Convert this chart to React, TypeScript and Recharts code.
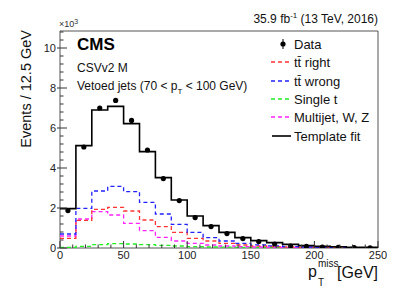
import { ComposedChart, Line, Scatter, XAxis, YAxis, ReferenceArea } from 'recharts';

// pT miss bins (GeV), 12.5 GeV wide
const binEdges = [
  0, 12.5, 25, 37.5, 50, 62.5, 75, 87.5, 100, 112.5, 125, 137.5, 150, 162.5, 175, 187.5, 200, 212.5,
  225, 237.5, 250,
];
const binCenters = [
  6.25, 18.75, 31.25, 43.75, 56.25, 68.75, 81.25, 93.75, 106.25, 118.75, 131.25, 143.75, 156.25,
  168.75, 181.25, 193.75, 206.25, 218.75, 231.25, 243.75,
];

// events x 10^3
const dataEvents = [
  1.87, 5.05, 7.0, 7.38, 6.38, 4.9, 3.47, 2.37, 1.52, 1.07, 0.72, 0.47, 0.32, 0.2, 0.1, 0.08, 0.05,
  0.03, 0.02, 0.01,
];
const templateFit = [
  1.97, 5.12, 6.9, 7.08, 6.22, 4.82, 3.52, 2.4, 1.6, 1.12, 0.78, 0.52, 0.37, 0.27, 0.18, 0.12, 0.08,
  0.06, 0.04, 0.03,
];
const ttRight = [
  0.48, 1.38, 1.93, 2.03, 1.85, 1.4, 1.07, 0.78, 0.48, 0.35, 0.23, 0.15, 0.1, 0.07, 0.05, 0.03, 0.02,
  0.01, 0.01, 0.01,
];
const ttWrong = [
  0.7, 1.98, 2.85, 3.08, 2.82, 2.28, 1.7, 1.18, 0.78, 0.52, 0.35, 0.23, 0.16, 0.11, 0.07, 0.05, 0.03,
  0.02, 0.015, 0.01,
];
const singleT = [
  0.03, 0.08, 0.17, 0.22, 0.2, 0.17, 0.13, 0.1, 0.07, 0.05, 0.04, 0.03, 0.02, 0.015, 0.01, 0.01,
  0.005, 0.005, 0.005, 0.005,
];
const multijet = [
  0.6, 1.45, 1.82, 1.65, 1.23, 0.87, 0.53, 0.35, 0.23, 0.15, 0.1, 0.07, 0.05, 0.03, 0.02, 0.01, 0.01,
  0.01, 0.005, 0.005,
];

const xTicks = [
  0, 10, 20, 30, 40, 50, 60, 70, 80, 90, 100, 110, 120, 130, 140, 150, 160, 170, 180, 190, 200, 210,
  220, 230, 240, 250,
];
const xMajor = [0, 50, 100, 150, 200, 250];
const yTicks = [
  0, 0.4, 0.8, 1.2, 1.6, 2, 2.4, 2.8, 3.2, 3.6, 4, 4.4, 4.8, 5.2, 5.6, 6, 6.4, 6.8, 7.2, 7.6, 8, 8.4,
  8.8, 9.2, 9.6, 10, 10.4, 10.8,
];
const yMajor = [0, 2, 4, 6, 8, 10];

// step histogram rows: last edge repeats the last bin so the step closes at 250
const histRows = binEdges.map((x, i) => {
  const b = Math.min(i, binCenters.length - 1);
  return {
    x,
    fit: templateFit[b],
    right: ttRight[b],
    wrong: ttWrong[b],
    single: singleT[b],
    multi: multijet[b],
  };
});
const dataPoints = binCenters.map((x, i) => ({ x, y: dataEvents[i] }));

const FONT = '"Liberation Sans", Arial, sans-serif';

function YTick({ x, y, payload }: any) {
  const major = yMajor.includes(payload.value);
  return (
    <g>
      <line x1={major ? x - 3 : x} x2={x + (major ? 7 : 3.5)} y1={y} y2={y} stroke="#333" />
      {major && (
        <text x={x - 4} y={y} dy={4} textAnchor="end" fontSize={11} fontFamily={FONT} fill="#222">
          {payload.value}
        </text>
      )}
    </g>
  );
}

function XTick({ x, y, payload }: any) {
  const major = xMajor.includes(payload.value);
  return (
    <g>
      <line x1={x} x2={x} y1={y} y2={y - (major ? 7 : 3.5)} stroke="#333" />
      {major && (
        <text x={x} y={y} dy={11} textAnchor="middle" fontSize={11} fontFamily={FONT} fill="#222">
          {payload.value}
        </text>
      )}
    </g>
  );
}

const legendRows = [
  { label: 'Data', color: '#000', kind: 'data', y: 44 },
  { label: 'tt\u0304 right', color: '#ff3333', kind: 'dash', y: 62 },
  { label: 'tt\u0304 wrong', color: '#2222ff', kind: 'dash', y: 81 },
  { label: 'Single t', color: '#22ee22', kind: 'dash', y: 99 },
  { label: 'Multijet, W, Z', color: '#ff22ff', kind: 'dash', y: 117 },
  { label: 'Template fit', color: '#000', kind: 'solid', y: 136 },
];

export default function App() {
  return (
    <div style={{ position: 'absolute', left: 0, top: 0, width: 407, height: 293, background: '#fff' }}>
      <ComposedChart
        width={407}
        height={293}
        data={histRows}
        margin={{ top: 31, right: 29, bottom: 0, left: 0 }}
      >
        <XAxis
          dataKey="x"
          type="number"
          domain={[0, 250]}
          ticks={xTicks}
          interval={0}
          tick={<XTick />}
          tickSize={0}
          tickMargin={0}
          axisLine={false}
          height={45}
          allowDataOverflow
        />
        <YAxis
          type="number"
          domain={[0, 10.85]}
          ticks={yTicks}
          interval={0}
          tick={<YTick />}
          tickSize={0}
          tickMargin={0}
          axisLine={false}
          width={60}
          allowDataOverflow
        />
        <ReferenceArea x1={0} x2={250} y1={0} y2={10.85} fill="none" stroke="#555" strokeWidth={1} />
        <Line type="stepAfter" dataKey="single" stroke="#22ee22" strokeWidth={1.3} strokeDasharray="4 3" dot={false} activeDot={false} isAnimationActive={false} />
        <Line type="stepAfter" dataKey="multi" stroke="#ff22ff" strokeWidth={1.3} strokeDasharray="4 3" dot={false} activeDot={false} isAnimationActive={false} />
        <Line type="stepAfter" dataKey="right" stroke="#ff3333" strokeWidth={1.3} strokeDasharray="4 3" dot={false} activeDot={false} isAnimationActive={false} />
        <Line type="stepAfter" dataKey="wrong" stroke="#2222ff" strokeWidth={1.3} strokeDasharray="4 3" dot={false} activeDot={false} isAnimationActive={false} />
        <Line type="stepAfter" dataKey="fit" stroke="#000" strokeWidth={1.6} dot={false} activeDot={false} isAnimationActive={false} />
        <Scatter
          data={dataPoints}
          dataKey="y"
          fill="#000"
          isAnimationActive={false}
          shape={(p: any) => <circle cx={p.cx} cy={p.cy} r={2.6} fill="#000" />}
        />
      </ComposedChart>

      <svg
        width={407}
        height={293}
        style={{ position: 'absolute', left: 0, top: 0, pointerEvents: 'none' }}
        fontFamily={FONT}
      >
        <text x={378} y={23} textAnchor="end" fontSize={12} fill="#111">
          35.9 fb<tspan dy={-5} fontSize={8}>-1</tspan>
          <tspan dy={5}> (13 TeV, 2016)</tspan>
        </text>
        <text x={59} y={27} fontSize={9} fill="#333">
          ×10<tspan dy={-3} fontSize={7}>3</tspan>
        </text>
        <text x={77} y={50} fontSize={17} fontWeight="bold" fill="#000">
          CMS
        </text>
        <text x={77} y={72} fontSize={12} fill="#111">
          CSVv2 M
        </text>
        <text x={77} y={90} fontSize={12} fill="#111">
          Vetoed jets (70 &lt; p<tspan dy={4} fontSize={8}>T</tspan>
          <tspan dy={-4}> &lt; 100 GeV)</tspan>
        </text>
        <text
          x={31}
          y={30}
          transform="rotate(-90 31 30)"
          textAnchor="end"
          fontSize={14.5}
          fill="#111"
        >
          Events / 12.5 GeV
        </text>
        <text x={308} y={277} fontSize={16} fill="#111">
          p
        </text>
        <text x={318} y={267} fontSize={10} fill="#111">
          miss
        </text>
        <text x={318} y={286} fontSize={10} fill="#111">
          T
        </text>
        <text x={378} y={278} textAnchor="end" fontSize={16} fill="#111">
          [GeV]
        </text>
        {legendRows.map((r) => (
          <g key={r.label}>
            {r.kind === 'data' && (
              <>
                <line x1={283} x2={283} y1={r.y - 5} y2={r.y + 5} stroke="#000" />
                <circle cx={283} cy={r.y} r={2.6} fill="#000" />
              </>
            )}
            {r.kind === 'dash' && (
              <line x1={271} x2={292} y1={r.y} y2={r.y} stroke={r.color} strokeWidth={1.3} strokeDasharray="4 3" />
            )}
            {r.kind === 'solid' && (
              <line x1={272} x2={291} y1={r.y} y2={r.y} stroke={r.color} strokeWidth={1.6} />
            )}
            <text x={294} y={r.y + 4.5} fontSize={13} fill="#111">
              {r.label}
            </text>
          </g>
        ))}
      </svg>
    </div>
  );
}
